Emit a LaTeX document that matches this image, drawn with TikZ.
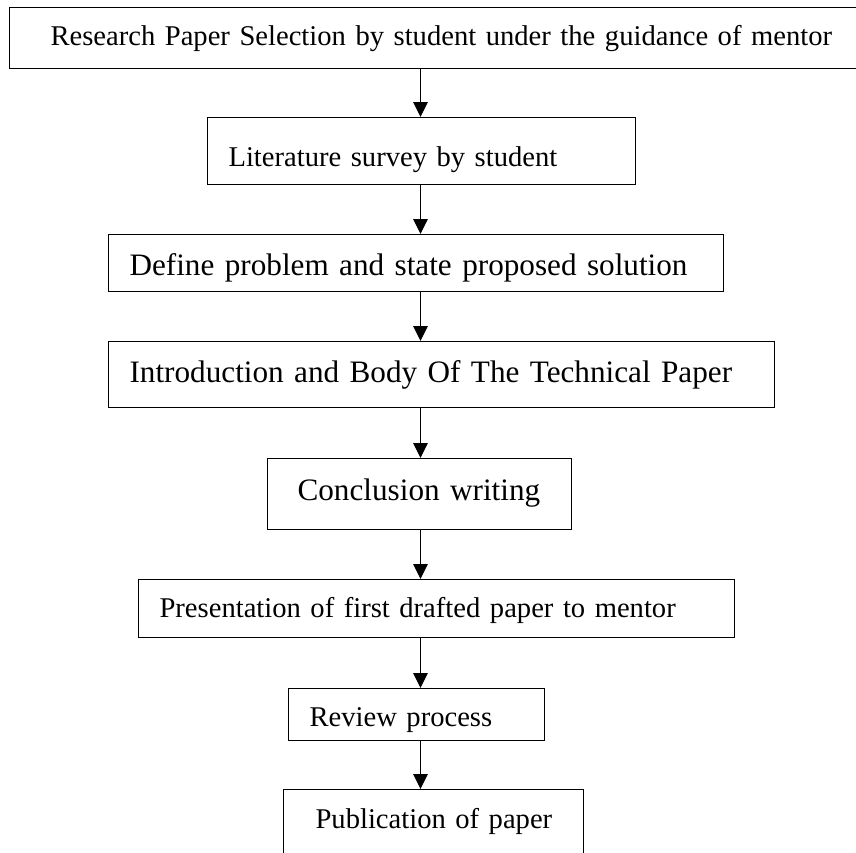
\documentclass[tikz,border=0pt]{standalone}
\usepackage{fontspec}
\setmainfont{Liberation Serif}
\usetikzlibrary{arrows.meta}
\tikzset{
  stepbox/.style={draw=black, line width=1.1pt, rectangle, inner sep=0pt,
    anchor=north west, align=left},
  smalltext/.style={font=\fontsize{28.6}{34}\selectfont},
  largetext/.style={font=\fontsize{31.2}{37}\selectfont},
  arr/.style={draw=black, line width=1.1pt, -{Triangle[length=15pt,width=14.5pt]}}
}
\begin{document}
\begin{tikzpicture}[x=1pt,y=-1pt]
\useasboundingbox (0,0) rectangle (856,852);
\coordinate (axis) at (420.5,0);
\node[stepbox, smalltext, text width=851pt, text height=38pt, text depth=23pt] (n1) at (9,7)
  {\hspace*{41pt}Research Paper Selection by student under the guidance of mentor};
\node[stepbox, smalltext, text width=428pt, text height=48.7pt, text depth=18.3pt] (n2) at (207,117)
  {\hspace*{21pt}Literature survey by student};
\node[stepbox, largetext, text width=615pt, text height=40.5pt, text depth=16.5pt] (n3) at (108,234)
  {\hspace*{21pt}Define problem and state proposed solution};
\node[stepbox, largetext, text width=666pt, text height=40.5pt, text depth=25.5pt] (n4) at (108,341)
  {\hspace*{21pt}Introduction and Body Of The Technical Paper};
\node[stepbox, largetext, text width=304pt, text height=42pt, text depth=29pt] (n5) at (267,458)
  {\hspace*{30pt}Conclusion writing};
\node[stepbox, smalltext, text width=596pt, text height=37.5pt, text depth=20.5pt] (n6) at (138,579)
  {\hspace*{21pt}Presentation of first drafted paper to mentor};
\node[stepbox, smalltext, text width=256pt, text height=37.7pt, text depth=14.3pt] (n7) at (288,688)
  {\hspace*{21pt}Review process};
\node[stepbox, smalltext, text width=300pt, text height=38.7pt, text depth=28.3pt] (n8) at (283,789)
  {\hspace*{32pt}Publication of paper};
\draw[arr] (n1.south -| axis) -- (n2.north -| axis);
\draw[arr] (n2.south -| axis) -- (n3.north -| axis);
\draw[arr] (n3.south -| axis) -- (n4.north -| axis);
\draw[arr] (n4.south -| axis) -- (n5.north -| axis);
\draw[arr] (n5.south -| axis) -- (n6.north -| axis);
\draw[arr] (n6.south -| axis) -- (n7.north -| axis);
\draw[arr] (n7.south -| axis) -- (n8.north -| axis);
\end{tikzpicture}
\end{document}
